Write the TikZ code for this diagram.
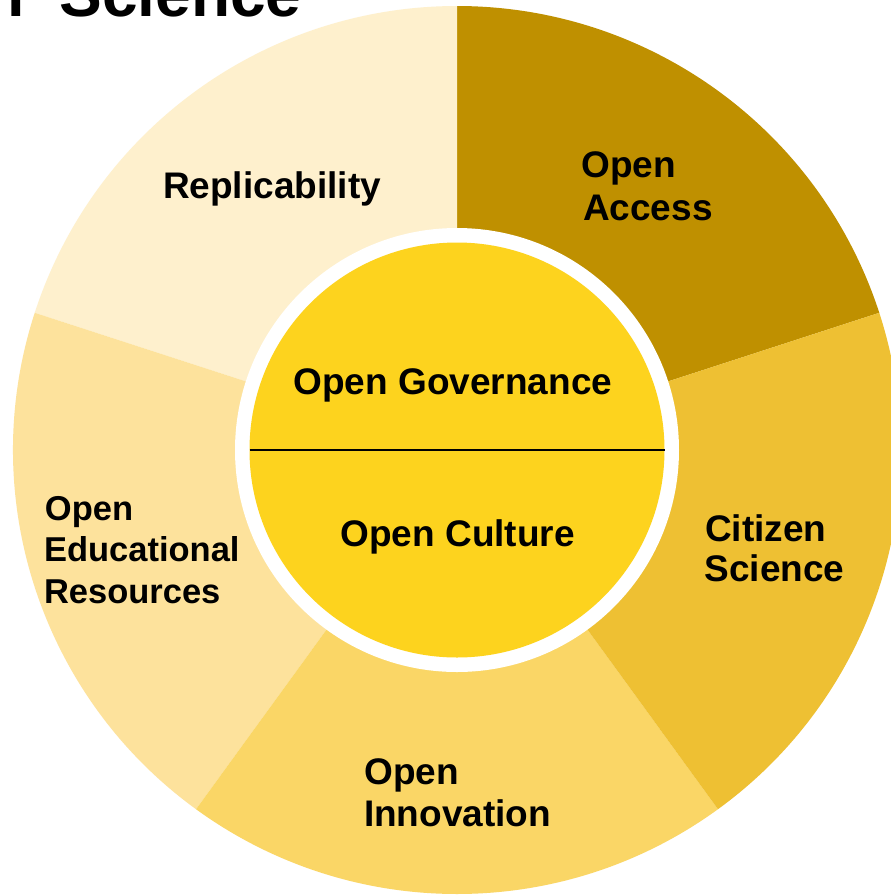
\documentclass[tikz,border=0pt]{standalone}
\usepackage{fontspec}
\setmainfont{Liberation Sans}
\definecolor{cAccess}{HTML}{BF9000}
\definecolor{cRepl}{HTML}{FEF0CD}
\definecolor{cOER}{HTML}{FDE29C}
\definecolor{cInno}{HTML}{FAD666}
\definecolor{cCitizen}{HTML}{EEC033}
\definecolor{cCore}{HTML}{FDD31E}
\begin{document}
\begin{tikzpicture}[x=1pt,y=1pt,
  lbl/.style={font=\fontsize{37}{42}\selectfont\bfseries, inner sep=0pt, outer sep=0pt, anchor=base west, text=black},
  lbls/.style={lbl, font=\fontsize{34.5}{41}\selectfont\bfseries},
  ttl/.style={font=\fontsize{64}{72}\selectfont\bfseries, inner sep=0pt, outer sep=0pt, text=black},
  sector/.style={draw=none}]
\useasboundingbox (0,0) rectangle (891,-895);
\clip (0,0) rectangle (891,-895);
\fill[white] (0,0) rectangle (891,-895);
\coordinate (C) at (457,-450);
% outer sectors
\def\R{444}
\fill[cAccess]  (C) -- ++(18:\R)  arc[start angle=18,  end angle=90,  radius=\R] -- cycle;
\fill[cRepl]    (C) -- ++(90:\R)  arc[start angle=90,  end angle=162, radius=\R] -- cycle;
\fill[cOER]     (C) -- ++(162:\R) arc[start angle=162, end angle=234, radius=\R] -- cycle;
\fill[cInno]    (C) -- ++(234:\R) arc[start angle=234, end angle=306, radius=\R] -- cycle;
\fill[cCitizen] (C) -- ++(306:\R) arc[start angle=306, end angle=378, radius=\R] -- cycle;
% white ring and core
\node[circle, fill=white, minimum size=444pt, inner sep=0pt, outer sep=0pt] (ring) at (C) {};
\node[circle, fill=cCore, minimum size=415pt, inner sep=0pt, outer sep=0pt] (core) at (C) {};
\draw[black, line width=2pt] (core.west) -- (core.east);
% title fragment
\node[ttl, anchor=base east] (t1) at (24.5,-16.5) {Open};
\node[ttl, anchor=base west] (t2) at (59.5,-16.5) {Science};
% labels
\node[lbl] (rep) at (163,-198) {Replicability};
\node[lbl] (oa1) at (581.5,-177) {Open};
\node[lbl] (oa2) at (583,-220) {Access};
\node[lbl] (cs1) at (705,-541) {Citizen};
\node[lbl] (cs2) at (704.5,-581) {Science};
\node[lbl] (oi1) at (364.5,-784) {Open};
\node[lbl] (oi2) at (364,-826) {Innovation};
\node[lbls] (oer1) at (45,-520) {Open};
\node[lbls] (oer2) at (44,-561) {Educational};
\node[lbls] (oer3) at (44,-603) {Resources};
\node[lbl] (gov) at (293.5,-394) {Open Governance};
\node[lbl] (cul) at (340.5,-546) {Open Culture};
\end{tikzpicture}
\end{document}
